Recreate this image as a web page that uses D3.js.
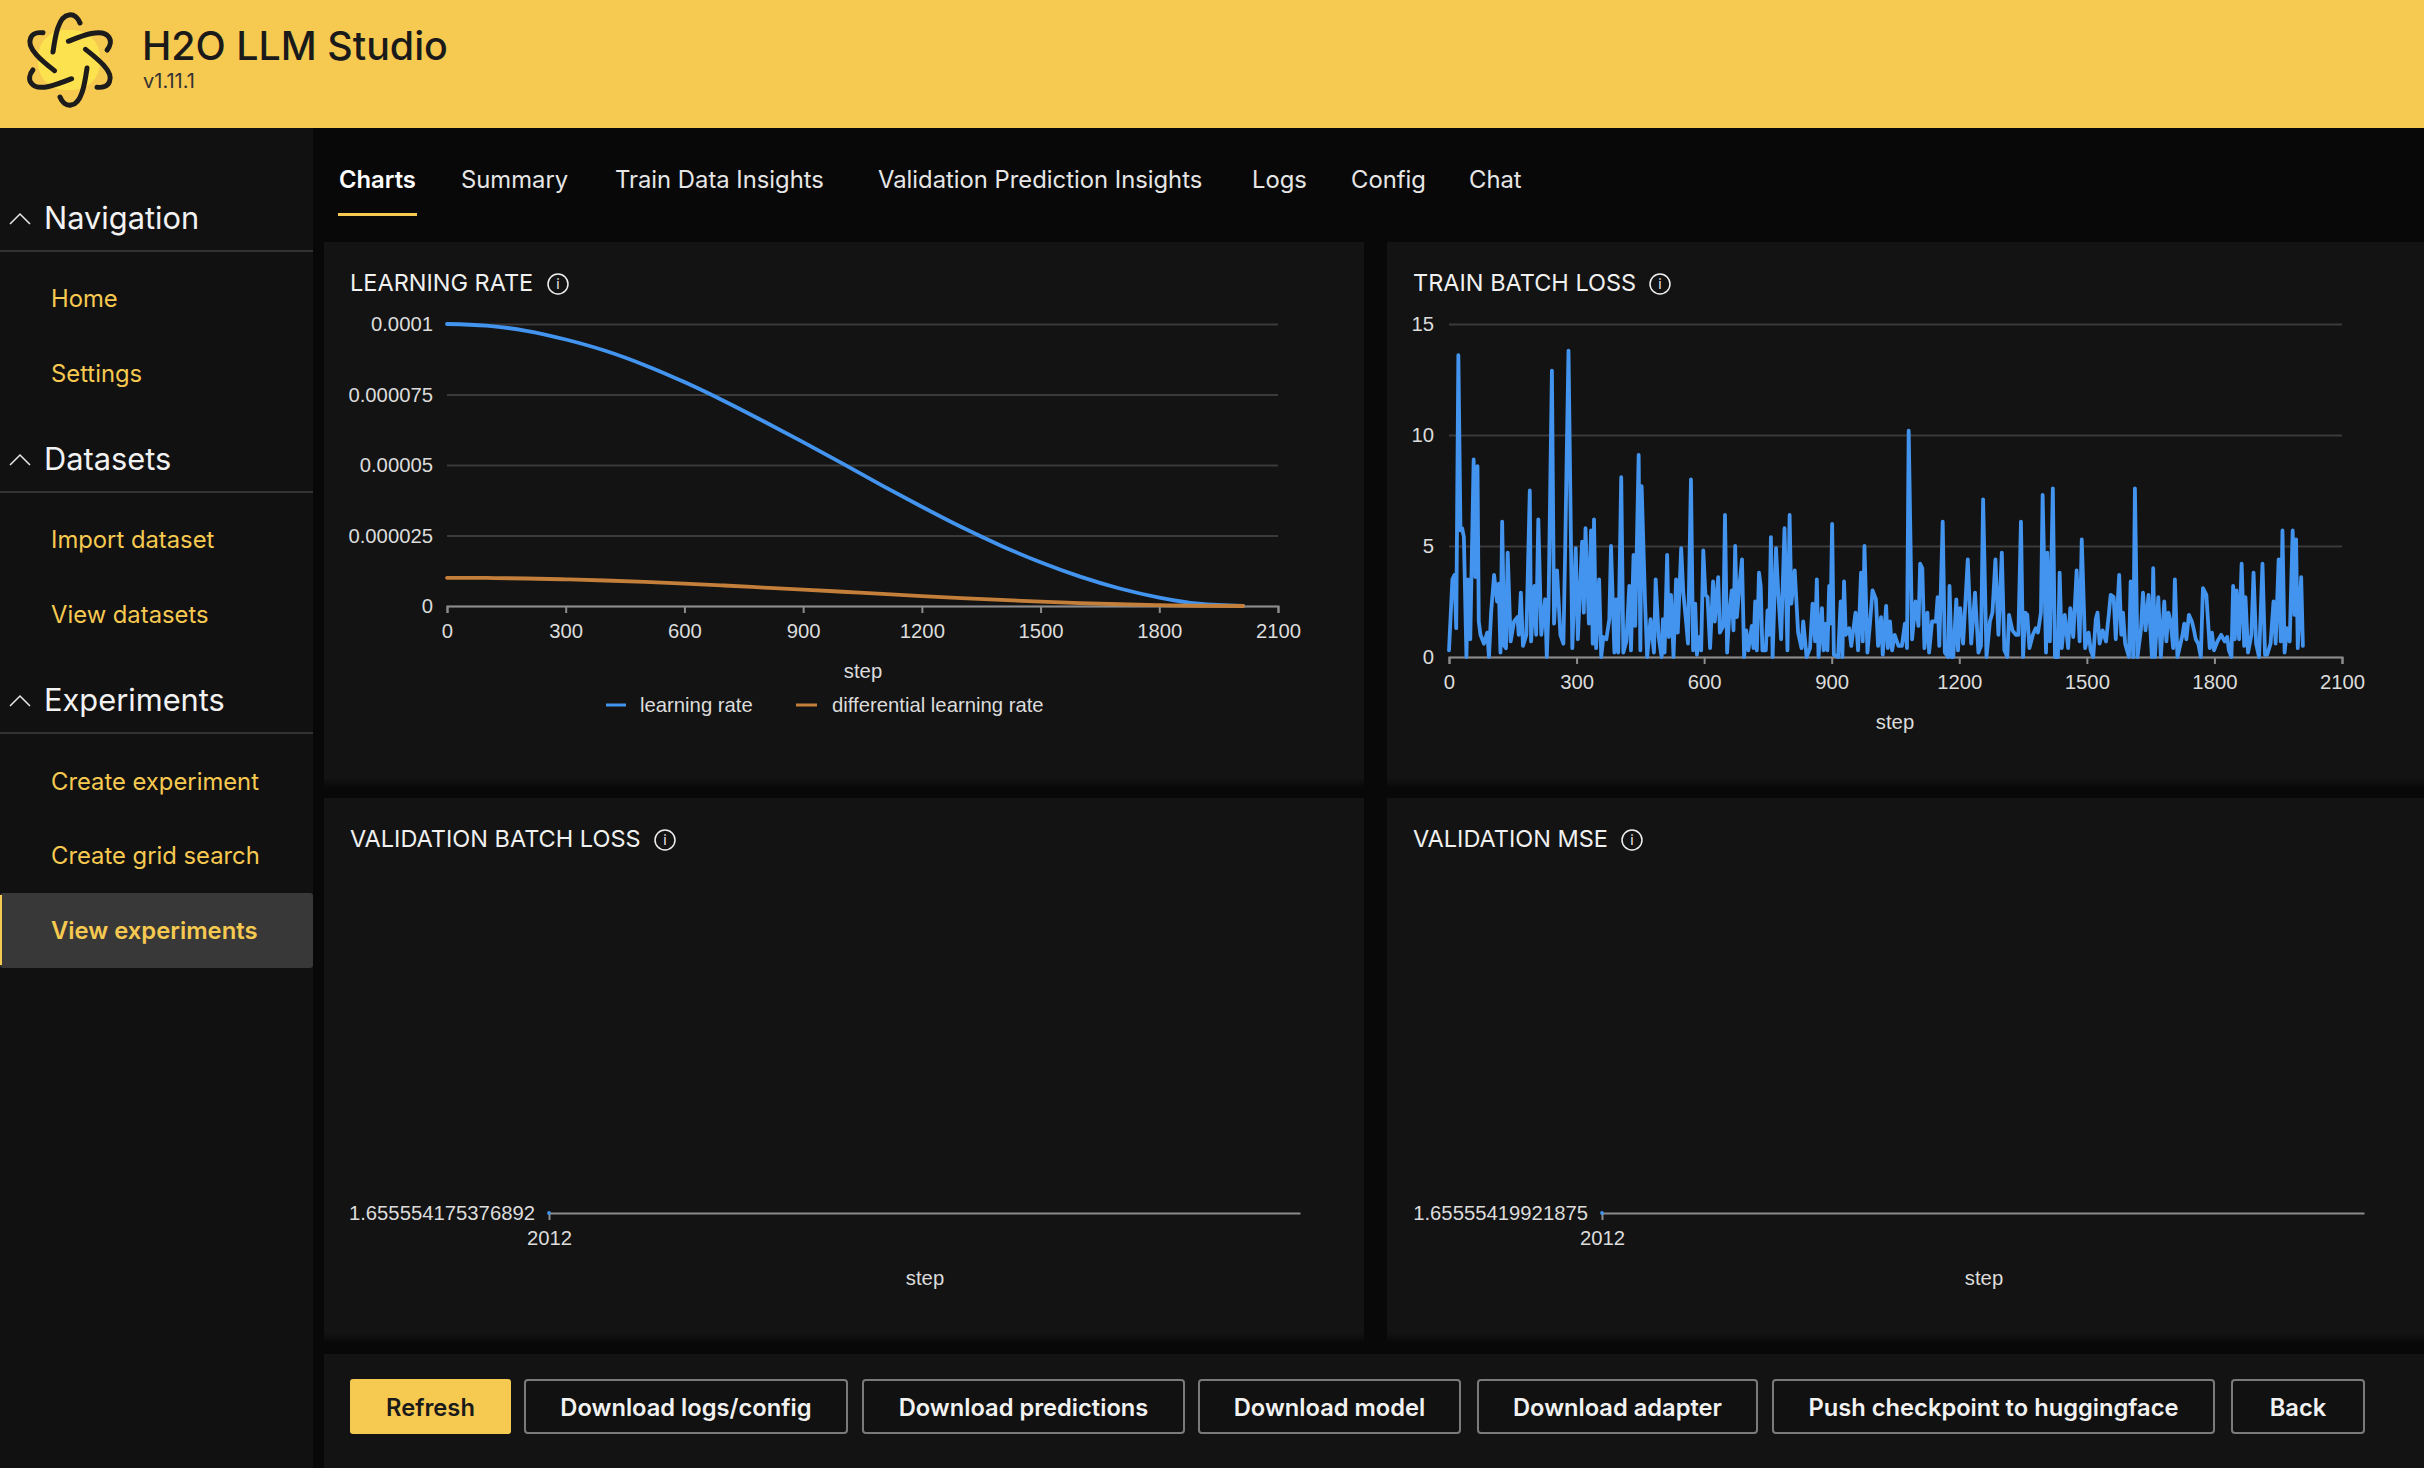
<!DOCTYPE html>
<html>
<head>
<meta charset="utf-8">
<script src="https://cdn.jsdelivr.net/npm/d3@7"></script>
<style>
html, body { margin: 0; padding: 0; background: #080808; overflow: hidden; }
svg { display: block; }
text { font-family: Inter, sans-serif; }
.tick text, .chart-label { font-family: "Liberation Sans", sans-serif; font-size: 20.3px; fill: #dcdcdc; }
</style>
</head>
<body>
<script>
// learning rate chart
var lrSteps = [0,100,200,300,400,500,600,700,800,900,1000,1100,1200,1300,1400,1500,1600,1700,1800,1900,2012]
var learningRate = [0.0001,0.0000994,0.0000976,0.0000945,0.0000905,0.0000854,0.0000794,0.0000727,0.0000655,0.0000581,0.0000505,0.0000427,0.0000352,0.000028,0.0000214,0.0000155,0.0000104,0.0000062,0.000003,0.0000008,0]
var diffLearningRate = [0.00001,0.00000994,0.00000976,0.00000945,0.00000905,0.00000854,0.00000794,0.00000727,0.00000655,0.00000581,0.00000505,0.00000427,0.00000352,0.0000028,0.00000214,0.00000155,0.00000104,0.00000062,0.0000003,0.00000008,0]

// train batch loss
var trainSteps = [0,8,13,17,22,27,31,35,41,45,50,58,62,67,70,74,82,90,94,99,106,113,117,121,125,130,134,138,145,153,161,164,169,174,182,190,193,201,205,210,217,226,230,234,242,247,254,262,269,273,281,290,298,303,313,317,321,329,334,338,341,346,353,358,363,370,377,381,389,393,398,405,410,417,424,428,434,438,446,450,453,461,466,474,482,486,493,500,503,507,513,517,522,528,534,538,546,551,558,562,569,574,579,583,589,593,598,603,608,614,621,625,633,637,645,649,654,659,665,669,673,677,684,689,694,699,704,712,716,720,724,729,733,737,745,749,753,757,761,769,774,781,789,796,801,805,813,821,829,833,841,849,855,861,865,869,877,881,886,890,894,897,901,905,915,921,925,929,933,941,946,956,962,969,973,977,984,990,996,1004,1009,
  1012,1016,1020,1028,1032,1037,1042,1048,1057,1065,1072,1077,1081,1089,1097,1104,1108,1113,1118,1125,1129,1136,1145,1149,1153,1161,1166,1174,1177,1182,1186,1193,1197,1202,1209,1220,1228,1237,1245,1251,1256,1264,1272,1278,1285,1292,1300,1306,1313,1317,1325,1333,1339,1345,1350,1355,1360,1365,1373,1380,1385,1392,1396,1404,1407,1413,1420,1425,1432,1436,1441,1448,1456,1461,1468,1476,1483,1488,1496,1504,1509,1515,1521,1525,1530,1537,1545,1552,1556,1563,1568,1576,1581,1585,1590,1599,1603,1609,1613,1619,1627,1632,1638,1645,1653,1656,1660,1668,1674,1682,1687,1692,1697,1703,1707,1713,1725,1729,1734,1740,1747,1752,1756,1762,1768,1773,1781,1789,1794,1799,1807,1816,1824,1830,1834,1840,1844,1848,1852,1858,1864,1870,1873,1879,1887,1892,1898,1905,1913,1919,1924,1932,1939,1944,1951,1956,1960,1965,1971,1977,1984,1988,1992,1996,2004,2008]
var trainLoss = [0.3,3.5,3.7,1.3,13.6,5.7,5.8,5.4,0,3.5,0.8,8.9,3.6,8.6,1.6,1,0.6,1.1,0,2,3.7,2.5,3.3,0.2,6.1,0.5,0.4,4.7,0.7,1.6,1.8,1,2.9,0.5,1,7.5,0.7,3.2,1,6.2,1,2.6,0,2.2,12.9,1.5,3.9,1,0.6,4.6,13.8,0.4,4.9,0.8,5.2,2,5.8,1.5,5.7,0.6,6.2,0.4,3.5,0,0.9,0.8,1.7,5,0.2,2.6,0.2,8.1,0.2,0.7,3.2,0.3,4.6,1.4,9.1,0.3,7.7,2.5,0,1.7,0.2,3.5,0.9,0,1.7,0.2,4.6,0.9,2.8,0,3.5,1.1,4.9,2.9,1.5,0.6,8,0.3,2.4,0.1,0.9,0.3,4.8,2.8,2.7,0.4,3.4,1.6,3.6,1.1,1.4,6.4,0.2,1.9,3,1.2,5,1.8,3.4,4.4,0,1.2,0.3,1.4,0.4,2.5,0.3,3.8,3.2,0.3,0.3,2.1,1,5.4,0,4.9,3,0.8,5.8,0.3,6.4,2.4,3.9,1.1,0.4,1.6,0,0.4,2.4,0.7,3.5,0,2.2,0.3,1.5,0.3,3.2,1.5,6,0.1,0,2.5,0,3.4,1,1.3,0.5,2,0.3,3.8,0.7,5,0.2,1.5,3,2.6,0.5,
  0.9,1.8,0.1,2.3,0.4,1.6,0.3,1,0.5,0.5,1.5,0.4,10.2,0.8,2.5,1.4,4.2,4,0.4,2,0.2,1.6,1.6,2.7,0.5,6.1,0.2,0,3.2,0,0,2.6,0.3,2.2,0.6,4.4,0.6,2.9,0.2,0.5,7.1,0,1.6,2,4.4,1,4.7,0.3,0,1.9,1.2,1,1,6.1,0,2,1.9,0.4,1,1.3,1.1,2,7.3,0.2,4.7,0.7,7.6,0,0,3.8,0.4,1.9,0.4,2.2,0.9,3.9,0.7,5.3,0.4,1.1,0.3,0,1.7,2,0.6,1.2,0.7,2,2.8,2.7,0.8,3.7,1,2,0.6,0,3.4,0,7.6,0,1.2,2.9,1.2,2.8,0,4,0,2.7,0,2.5,0.7,2,1.6,0.4,3.5,0,1,1.5,0.8,1.9,1.6,1.2,0.8,0.6,0,3.1,2.8,0.4,1.1,0.3,0.7,1,0.7,0.9,0.3,0,3.2,0.8,3,0.8,4.2,0.5,2.7,0.2,1,3.8,0.6,0,4.2,0.1,0.1,0.6,2.5,0.6,4.4,0.7,5.7,0.2,1.3,0.7,5.7,1.9,5.3,0.4,3.6,0.5]

// single point charts
var validationStep = [2012]
var validationLoss = [1.655554175376892]
var validationMse = [1.65555419921875]

var stepTicks = [0,300,600,900,1200,1500,1800,2100]
var lrTicks = [0,0.000025,0.00005,0.000075,0.0001]
var lrTickLabels = ['0','0.000025','0.00005','0.000075','0.0001']
var lossTicks = [0,5,10,15]

var tabs = ['Charts','Summary','Train Data Insights','Validation Prediction Insights','Logs','Config','Chat']
var tabX = [339,461,615,878,1252,1351,1469]

var navSections = ['Navigation','Datasets','Experiments']
var navSectionY = [218,459,700]
var navItems = ['Home','Settings','Import dataset','View datasets','Create experiment','Create grid search','View experiments']
var navItemY = [298.5,373.5,539.5,614,781.5,855.5,930]

var buttonLabels = ['Refresh','Download logs/config','Download predictions','Download model','Download adapter','Push checkpoint to huggingface','Back']
var buttonX0 = [350,524,862,1198,1477,1772,2231]
var buttonX1 = [511,848,1185,1461,1758,2215,2365]

var blue = '#4394ee', orange = '#c47f3a', yellow = '#f6c950'

var svg = d3.select('body').append('svg').attr('width', 2424).attr('height', 1468)

var fadeGrad = svg.append('defs').append('linearGradient').attr('id', 'fade').attr('x1', 0).attr('y1', 0).attr('x2', 0).attr('y2', 1)
fadeGrad.append('stop').attr('offset', 0).attr('stop-color', '#131313')
fadeGrad.append('stop').attr('offset', 1).attr('stop-color', '#080808')

// header
svg.append('rect').attr('width', 2424).attr('height', 128).attr('fill', yellow)
var logo = svg.append('g').attr('transform', 'translate(70,60)')
logo.append('rect').attr('x', -32).attr('y', -30).attr('width', 62).attr('height', 60).attr('rx', 27).attr('fill', '#fde24f')
d3.range(6).forEach(function(i) {
    logo.append('path')
        .attr('d', 'M-17,-8 C-15,-22 -12,-44 -1,-45 C4,-46 8,-42 10,-37')
        .attr('transform', 'rotate(' + i * 60 + ')')
        .attr('fill', 'none').attr('stroke', '#1c1c1c').attr('stroke-width', 5).attr('stroke-linecap', 'round')
})
svg.append('text').attr('x', 142).attr('y', 60).attr('font-size', 39.4).attr('font-weight', 500).attr('fill', '#1a1a1a').text('H2O LLM Studio')
svg.append('text').attr('x', 143).attr('y', 88).attr('font-size', 20).attr('fill', '#333').text('v1.11.1')

// sidebar
svg.append('rect').attr('y', 128).attr('width', 313).attr('height', 1340).attr('fill', '#111111')
svg.append('rect').attr('y', 893).attr('width', 313).attr('height', 75).attr('rx', 3).attr('fill', '#383838')
svg.append('rect').attr('y', 895).attr('width', 2).attr('height', 70).attr('fill', yellow)
navSections.forEach(function(s, i) {
    var y = navSectionY[i]
    svg.append('path').attr('d', 'M10,' + (y + 6) + ' L20,' + (y - 4) + ' L30,' + (y + 6))
        .attr('fill', 'none').attr('stroke', '#e8e8e8').attr('stroke-width', 1.5)
    svg.append('text').attr('x', 44).attr('y', y).attr('dy', '0.36em').attr('font-size', 30.8).attr('fill', '#f2f2f2').text(s)
    svg.append('rect').attr('y', y + 32).attr('width', 313).attr('height', 2).attr('fill', '#333333')
})
navItems.forEach(function(s, i) {
    svg.append('text').attr('x', 51).attr('y', navItemY[i]).attr('dy', '0.36em').attr('font-size', 23.8)
        .attr('font-weight', i == 6 ? 600 : 400).attr('fill', yellow).text(s)
})

// tabs
tabs.forEach(function(s, i) {
    svg.append('text').attr('x', tabX[i]).attr('y', 179).attr('dy', '0.36em').attr('font-size', 23.8)
        .attr('font-weight', i == 0 ? 600 : 400).attr('fill', i == 0 ? '#fff' : '#e6e6e6').text(s)
})
svg.append('rect').attr('x', 338).attr('y', 213).attr('width', 79).attr('height', 3).attr('fill', yellow)

// panels
function panel(x, y, w, h, fadeH) {
    svg.append('rect').attr('x', x).attr('y', y).attr('width', w).attr('height', h).attr('fill', '#131313')
    if (fadeH) svg.append('rect').attr('x', x).attr('y', y + h).attr('width', w).attr('height', fadeH).attr('fill', 'url(#fade)')
}
panel(324, 242, 1040, 536, 10)
panel(1387, 242, 1037, 536, 10)
panel(324, 798, 1040, 535, 10)
panel(1387, 798, 1037, 535, 10)
panel(324, 1354, 2100, 114)

function title(s, x, y, ix) {
    svg.append('text').attr('x', x).attr('y', y).attr('dy', '0.36em').attr('font-size', 23.5).attr('fill', '#f0f0f0').text(s)
    svg.append('circle').attr('cx', ix).attr('cy', y + 1).attr('r', 10).attr('fill', 'none').attr('stroke', '#f0f0f0').attr('stroke-width', 1.5)
    svg.append('text').attr('x', ix).attr('y', y + 1).attr('dy', '0.36em').attr('text-anchor', 'middle').attr('font-size', 14).attr('fill', '#f0f0f0').text('i')
}
title('LEARNING RATE', 350, 283, 558)
title('TRAIN BATCH LOSS', 1413, 283, 1660)
title('VALIDATION BATCH LOSS', 350, 839, 665)
title('VALIDATION MSE', 1413, 839, 1632)

function styleAxes(xG, yG) {
    xG.select('.domain').attr('stroke', '#8c8c8c').attr('stroke-width', 2)
    xG.selectAll('.tick line').attr('stroke', '#8c8c8c').attr('stroke-width', 2)
    yG.select('.domain').remove()
    yG.selectAll('.tick line').attr('stroke', '#3a3a3a').attr('stroke-width', 2)
}

function label(s, x, y) {
    svg.append('text').attr('class', 'chart-label').attr('x', x).attr('y', y).attr('dy', '0.36em').attr('text-anchor', 'middle').text(s)
}

var line = d3.line().curve(d3.curveLinear)
var smoothLine = d3.line().curve(d3.curveMonotoneX)

function drawSeries(xs, ys, x, y, color, gen) {
    svg.append('path')
        .attr('d', gen(xs.map(function(d, i) { return [x(d), y(ys[i])] })))
        .attr('fill', 'none').attr('stroke', color).attr('stroke-width', 3.8)
        .attr('stroke-linecap', 'round').attr('stroke-linejoin', 'round')
}

// LEARNING RATE
var lrX = d3.scaleLinear().domain([0, 2100]).range([447, 1278])
var lrY = d3.scaleLinear().domain([0, 0.0001]).range([606, 324])
var lrGY = svg.append('g').attr('transform', 'translate(447,0)')
    .call(d3.axisLeft(lrY).tickValues(lrTicks).tickFormat(function(d, i) { return lrTickLabels[i] }).tickSize(-831).tickPadding(14))
var lrGX = svg.append('g').attr('transform', 'translate(0,606)')
    .call(d3.axisBottom(lrX).tickValues(stepTicks).tickFormat(d3.format('d')).tickSize(7).tickSizeOuter(7).tickPadding(11))
styleAxes(lrGX, lrGY)
drawSeries(lrSteps, learningRate, lrX, lrY, blue, smoothLine)
drawSeries(lrSteps, diffLearningRate, lrX, lrY, orange, smoothLine)
label('step', 863, 671)
svg.append('rect').attr('x', 606).attr('y', 703.5).attr('width', 20).attr('height', 3).attr('fill', blue)
svg.append('rect').attr('x', 796).attr('y', 703.5).attr('width', 21).attr('height', 3).attr('fill', orange)
svg.append('text').attr('class', 'chart-label').attr('x', 640).attr('y', 705).attr('dy', '0.36em').text('learning rate')
svg.append('text').attr('class', 'chart-label').attr('x', 832).attr('y', 705).attr('dy', '0.36em').text('differential learning rate')

// TRAIN BATCH LOSS
var lossX = d3.scaleLinear().domain([0, 2100]).range([1449, 2342])
var lossY = d3.scaleLinear().domain([0, 15]).range([657, 324])
var lossGY = svg.append('g').attr('transform', 'translate(1449,0)')
    .call(d3.axisLeft(lossY).tickValues(lossTicks).tickSize(-893).tickPadding(15))
var lossGX = svg.append('g').attr('transform', 'translate(0,657)')
    .call(d3.axisBottom(lossX).tickValues(stepTicks).tickFormat(d3.format('d')).tickSize(7).tickSizeOuter(7).tickPadding(11))
styleAxes(lossGX, lossGY)
drawSeries(trainSteps, trainLoss, lossX, lossY, blue, line)
label('step', 1895, 722)

// the two validation charts only have one point
function singlePoint(vals, x0, x1, labelText, stepX) {
    var x = d3.scaleLinear().domain([2012, 3000]).range([x0, x1])
    var y = d3.scaleLinear().domain([vals[0], vals[0] + 1]).range([1213, 1113])
    var gx = svg.append('g').attr('transform', 'translate(0,1213)')
        .call(d3.axisBottom(x).tickValues(validationStep).tickFormat(d3.format('d')).tickSize(7).tickSizeOuter(0).tickPadding(11))
    gx.select('.domain').attr('stroke', '#8c8c8c').attr('stroke-width', 2)
    gx.selectAll('.tick line').attr('stroke', '#8c8c8c').attr('stroke-width', 2)
    var gy = svg.append('g').attr('transform', 'translate(' + x0 + ',0)')
        .call(d3.axisLeft(y).tickValues([vals[0]]).tickFormat(function() { return labelText }).tickSize(0).tickPadding(14))
    gy.select('.domain').remove()
    drawSeries(validationStep, vals, x, y, blue, line)
    label('step', stepX, 1278)
}
singlePoint(validationLoss, 549, 1300, '1.655554175376892', 925)
singlePoint(validationMse, 1602, 2364, '1.65555419921875', 1984)

// buttons
buttonLabels.forEach(function(s, i) {
    var first = i == 0
    svg.append('rect').attr('x', buttonX0[i] + (first ? 0 : 1)).attr('y', first ? 1379 : 1380)
        .attr('width', buttonX1[i] - buttonX0[i] - (first ? 0 : 2)).attr('height', first ? 55 : 53).attr('rx', 3)
        .attr('fill', first ? yellow : '#111').attr('stroke', first ? 'none' : '#7a7a7a').attr('stroke-width', 2)
    svg.append('text').attr('x', (buttonX0[i] + buttonX1[i]) / 2).attr('y', 1407).attr('dy', '0.36em')
        .attr('text-anchor', 'middle').attr('font-size', 23.7).attr('font-weight', 600)
        .attr('fill', first ? '#1a1a1a' : '#f2f2f2').text(s)
})
</script>
</body>
</html>
